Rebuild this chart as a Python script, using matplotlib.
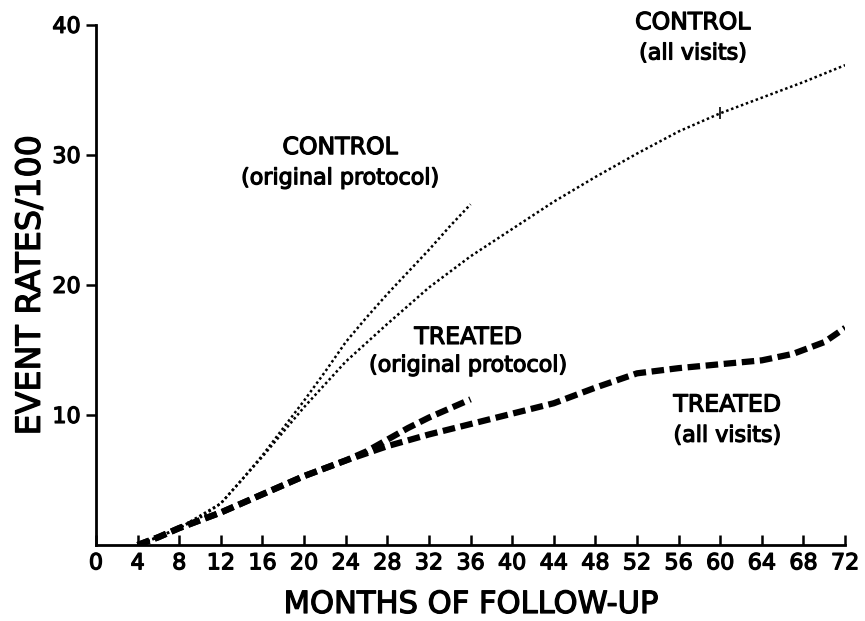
import matplotlib
matplotlib.use("Agg")
import matplotlib.pyplot as plt
import matplotlib.patheffects as pe

# months / event rates
ctrl_orig_m = [4, 6, 8, 10, 12, 14, 16, 18, 20, 22, 24, 26, 28, 30, 32, 34, 36]
ctrl_orig_v = [0, 0.6, 1.3, 2.1, 3.2, 5.0, 6.9, 9.0, 11.1, 13.3, 15.6, 17.5, 19.3, 21.0, 22.7, 24.5, 26.2]

ctrl_all_m = [4, 8, 12, 16, 20, 24, 28, 32, 36, 40, 44, 48, 52, 56, 60, 64, 68, 72]
ctrl_all_v = [0, 1.3, 3.2, 6.8, 10.6, 14.1, 17.0, 19.8, 22.2, 24.3, 26.4, 28.3, 30.1, 31.8, 33.2, 34.4, 35.6, 36.9]

trt_orig_m = [4, 6, 8, 10, 12, 16, 20, 24, 26, 28, 30, 32, 34, 36]
trt_orig_v = [0, 0.6, 1.3, 1.9, 2.5, 3.9, 5.3, 6.5, 7.2, 8.1, 9.0, 9.8, 10.5, 11.2]

trt_all_m = [4, 6, 8, 10, 12, 16, 20, 24, 28, 32, 36, 40, 44, 48, 52, 56, 60, 64, 67, 70, 72]
trt_all_v = [0, 0.6, 1.3, 1.9, 2.5, 3.9, 5.3, 6.5, 7.6, 8.5, 9.3, 10.1, 10.9, 12.1, 13.2, 13.6, 13.9, 14.2, 14.7, 15.6, 16.7]

x_ticks = list(range(0, 73, 4))
y_ticks = [10, 20, 30, 40]

plt.rcParams['font.family'] = ['DejaVu Sans']
heavy = [pe.withStroke(linewidth=0.9, foreground='black')]

fig = plt.figure(figsize=(8.65, 6.21), dpi=100)
ax = fig.add_axes([0.111, 0.1224, 0.866, 0.8376])

ax.plot(ctrl_orig_m, ctrl_orig_v, color='black', lw=1.8, linestyle=(0, (1, 1.1)))
ax.plot(ctrl_all_m, ctrl_all_v, color='black', lw=1.8, linestyle=(0, (1, 1.1)))
ax.plot(trt_orig_m, trt_orig_v, color='black', lw=4.5, linestyle=(0, (2.0, 0.9)))
ax.plot(trt_all_m, trt_all_v, color='black', lw=4.5, linestyle=(0, (2.0, 0.9)))
# small tick mark on the control (all visits) curve at 60 months
ax.plot(ctrl_all_m[14], ctrl_all_v[14], marker='|', color='black', ms=8, mew=1.2)

ax.set_xlim(0, 72)
ax.set_ylim(0, 40)
ax.spines['top'].set_visible(False)
ax.spines['right'].set_visible(False)
ax.spines['left'].set_linewidth(2)
ax.spines['bottom'].set_linewidth(2)

ax.set_xticks(x_ticks)
ax.set_xticklabels([str(t) for t in x_ticks], fontsize=16)
ax.set_yticks(y_ticks)
ax.set_yticklabels([str(t) for t in y_ticks], fontsize=16)
ax.tick_params(axis='x', direction='in', length=7, width=1.8, pad=6)
ax.tick_params(axis='y', direction='out', length=7, width=1.8, pad=4)
for lbl in ax.get_xticklabels() + ax.get_yticklabels():
    lbl.set_path_effects(heavy)

ax.set_xlabel("MONTHS OF FOLLOW-UP", fontsize=22, labelpad=12, path_effects=heavy)
ax.set_ylabel("EVENT RATES/100", fontsize=24, labelpad=4, path_effects=heavy)

kw = dict(ha='center', va='center', color='black', path_effects=heavy)
ax.text(23.5, 30.6, "CONTROL", fontsize=17, **kw)
ax.text(23.5, 28.2, "(original protocol)", fontsize=16, **kw)
ax.text(57.4, 40.2, "CONTROL", fontsize=17, **kw)
ax.text(57.4, 37.8, "(all visits)", fontsize=16, **kw)
ax.text(35.8, 16.0, "TREATED", fontsize=17, **kw)
ax.text(35.8, 13.8, "(original protocol)", fontsize=16, **kw)
ax.text(60.7, 10.8, "TREATED", fontsize=17, **kw)
ax.text(60.7, 8.4, "(all visits)", fontsize=16, **kw)

fig.savefig("out.png", dpi=100)
